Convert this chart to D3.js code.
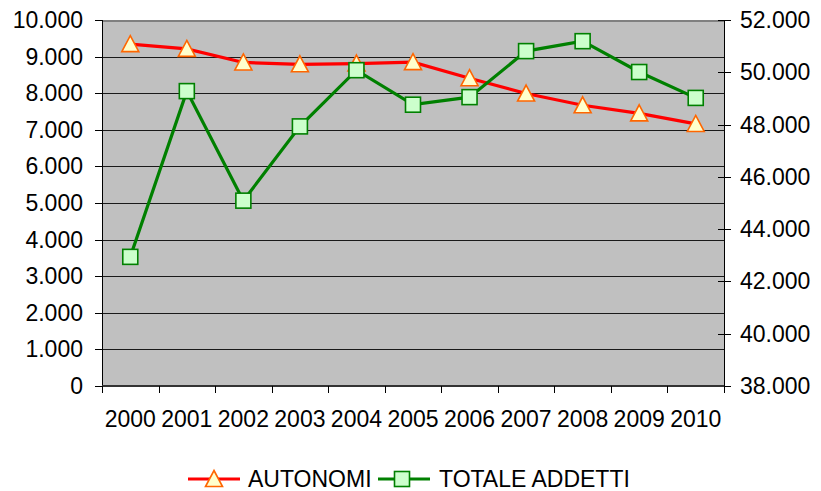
<!DOCTYPE html>
<html>
<head>
<meta charset="utf-8">
<script src="https://cdn.jsdelivr.net/npm/d3@7"></script>
<style>
  body { margin: 0; background: #fff; }
  svg { display: block; font-family: "Liberation Sans", Arial, sans-serif; }
</style>
</head>
<body>
<div id="chart"></div>
<script>
// ── Data ───────────────────────────────────────────────────────────────
const years = ["2000", "2001", "2002", "2003", "2004", "2005", "2006", "2007", "2008", "2009", "2010"];
const autonomi = [9340, 9210, 8840, 8790, 8810, 8850, 8410, 7990, 7670, 7450, 7160];
const totaleAddetti = [42940, 49280, 45090, 47930, 50080, 48760, 49050, 50810, 51190, 50010, 49020];
const leftTicks = [0, 1000, 2000, 3000, 4000, 5000, 6000, 7000, 8000, 9000, 10000];
const rightTicks = [38000, 40000, 42000, 44000, 46000, 48000, 50000, 52000];

// ── Dimensions ─────────────────────────────────────────────────────────
const W = 821, H = 491;
const plot = { left: 102, right: 724, top: 20, bottom: 386 };

const svg = d3.select("#chart").append("svg")
  .attr("width", W).attr("height", H);

// ── Scales ─────────────────────────────────────────────────────────────
const x = d3.scaleBand().domain(years).range([plot.left, plot.right]);
const yL = d3.scaleLinear().domain([0, 10000]).range([plot.bottom, plot.top]);
const yR = d3.scaleLinear().domain([38000, 52000]).range([plot.bottom, plot.top]);
const fmt = (v) => d3.format(",")(v).replace(/,/g, ".");

// ── Plot background & grid ─────────────────────────────────────────────
svg.append("rect")
  .attr("x", plot.left).attr("y", plot.top)
  .attr("width", plot.right - plot.left).attr("height", plot.bottom - plot.top)
  .attr("fill", "#c0c0c0");

svg.append("g").selectAll("line")
  .data(leftTicks.slice(1, -1))
  .join("line")
  .attr("x1", plot.left).attr("x2", plot.right)
  .attr("y1", (d) => Math.round(yL(d)) + 0.5).attr("y2", (d) => Math.round(yL(d)) + 0.5)
  .attr("stroke", "#1a1a1a").attr("stroke-width", 1);

svg.append("line")
  .attr("x1", plot.left).attr("x2", plot.right)
  .attr("y1", plot.top + 1).attr("y2", plot.top + 1)
  .attr("stroke", "#808080").attr("stroke-width", 2);

// ── Axes ───────────────────────────────────────────────────────────────
const axisColor = "#000";
const fontSize = "23px";

// left
svg.append("line")
  .attr("x1", plot.left + 0.5).attr("x2", plot.left + 0.5)
  .attr("y1", plot.top).attr("y2", plot.bottom + 7)
  .attr("stroke", axisColor);
const lg = svg.append("g");
lg.selectAll("line").data(leftTicks).join("line")
  .attr("x1", plot.left - 7).attr("x2", plot.left)
  .attr("y1", (d) => Math.round(yL(d)) + 0.5).attr("y2", (d) => Math.round(yL(d)) + 0.5)
  .attr("stroke", axisColor);
lg.selectAll("text").data(leftTicks).join("text")
  .attr("x", plot.left - 19).attr("y", (d) => yL(d))
  .attr("dy", "0.35em").attr("text-anchor", "end")
  .style("font-size", fontSize).attr("fill", "#000")
  .text(fmt);

// right
svg.append("line")
  .attr("x1", plot.right + 0.5).attr("x2", plot.right + 0.5)
  .attr("y1", plot.top).attr("y2", plot.bottom + 7)
  .attr("stroke", axisColor);
const rg = svg.append("g");
rg.selectAll("line").data(rightTicks).join("line")
  .attr("x1", plot.right - 6).attr("x2", plot.right + 7)
  .attr("y1", (d) => Math.round(yR(d)) + 0.5).attr("y2", (d) => Math.round(yR(d)) + 0.5)
  .attr("stroke", axisColor);
rg.selectAll("text").data(rightTicks).join("text")
  .attr("x", plot.right + 16).attr("y", (d) => yR(d))
  .attr("dy", "0.35em").attr("text-anchor", "start")
  .style("font-size", fontSize).attr("fill", "#000")
  .text(fmt);

// bottom
svg.append("line")
  .attr("x1", plot.left).attr("x2", plot.right)
  .attr("y1", plot.bottom).attr("y2", plot.bottom)
  .attr("stroke", "#333").attr("stroke-width", 2);
const xg = svg.append("g");
xg.selectAll("line").data(years.concat(["end"])).join("line")
  .attr("x1", (d, i) => Math.round(plot.left + i * x.bandwidth()) + 0.5)
  .attr("x2", (d, i) => Math.round(plot.left + i * x.bandwidth()) + 0.5)
  .attr("y1", plot.bottom).attr("y2", plot.bottom + 7)
  .attr("stroke", axisColor);
xg.selectAll("text").data(years).join("text")
  .attr("x", (d) => x(d) + x.bandwidth() / 2).attr("y", 427)
  .attr("text-anchor", "middle")
  .style("font-size", fontSize).attr("fill", "#000")
  .text((d) => d);

// ── Markers ────────────────────────────────────────────────────────────
const triPath = (cx, cy) => `M${cx},${cy - 8.5}L${cx + 8.5},${cy + 7.5}L${cx - 8.5},${cy + 7.5}Z`;

function drawTriangle(g, cx, cy) {
  g.append("path").attr("d", triPath(cx, cy))
    .attr("fill", "#ffffcc").attr("stroke", "#ff6600").attr("stroke-width", 1.6);
}
function drawSquare(g, cx, cy) {
  g.append("rect").attr("x", cx - 7.5).attr("y", cy - 7.5)
    .attr("width", 15).attr("height", 15)
    .attr("fill", "#ccffcc").attr("stroke", "#008000").attr("stroke-width", 1.6);
}

const cxOf = (i) => x(years[i]) + x.bandwidth() / 2;

// ── AUTONOMI ───────────────────────────────────────────────────────────
const lineA = d3.line().x((d, i) => cxOf(i)).y((d) => yL(d));
svg.append("path").datum(autonomi).attr("d", lineA)
  .attr("fill", "none").attr("stroke", "#ff0000").attr("stroke-width", 3.2);
const gA = svg.append("g");
autonomi.forEach((d, i) => drawTriangle(gA, cxOf(i), yL(d)));

// ── TOTALE ADDETTI ─────────────────────────────────────────────────────
const lineT = d3.line().x((d, i) => cxOf(i)).y((d) => yR(d));
svg.append("path").datum(totaleAddetti).attr("d", lineT)
  .attr("fill", "none").attr("stroke", "#008000").attr("stroke-width", 3.2);
const gT = svg.append("g");
totaleAddetti.forEach((d, i) => drawSquare(gT, cxOf(i), yR(d)));

// ── Legend ─────────────────────────────────────────────────────────────
const legY = 479;
const leg = svg.append("g");
leg.append("line").attr("x1", 188).attr("x2", 240).attr("y1", legY).attr("y2", legY)
  .attr("stroke", "#ff0000").attr("stroke-width", 3.2);
drawTriangle(leg, 214, legY);
leg.append("text").attr("x", 248).attr("y", legY).attr("dy", "0.35em")
  .style("font-size", fontSize).text("AUTONOMI");

leg.append("line").attr("x1", 378).attr("x2", 430).attr("y1", legY).attr("y2", legY)
  .attr("stroke", "#008000").attr("stroke-width", 3.2);
drawSquare(leg, 402, legY);
leg.append("text").attr("x", 439).attr("y", legY).attr("dy", "0.35em")
  .style("font-size", fontSize).text("TOTALE ADDETTI");
</script>
</body>
</html>
